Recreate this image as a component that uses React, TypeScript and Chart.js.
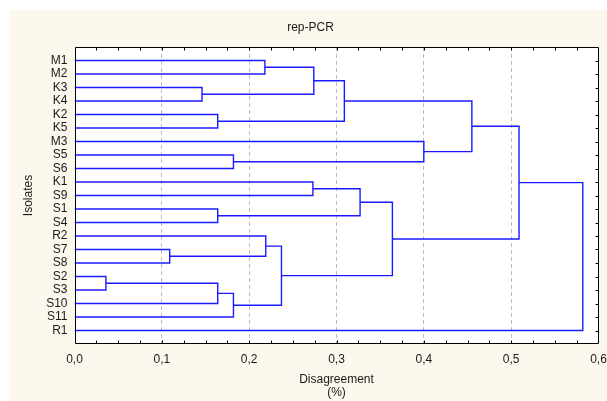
import React, { useEffect, useRef } from "react";
import { Chart, registerables } from "chart.js";

Chart.register(...registerables);

// Leaf order (top to bottom)
const leaves = ["M1", "M2", "K3", "K4", "K2", "K5", "M3", "S5", "S6", "K1", "S9", "S1", "S4", "R2", "S7", "S8", "S2", "S3", "S10", "S11", "R1"];

// Linkage: node ids 0..20 are leaves, 21+ are merges in order
const mergeLeft = [0, 2, 21, 4, 23, 7, 6, 25, 9, 11, 29, 14, 13, 16, 34, 35, 33, 31, 28, 39];
const mergeRight = [1, 3, 22, 5, 24, 8, 26, 27, 10, 12, 30, 15, 32, 17, 18, 19, 36, 37, 38, 20];
const mergeHeight = [0.218, 0.146, 0.274, 0.164, 0.309, 0.182, 0.4, 0.455, 0.273, 0.164, 0.327, 0.109, 0.219, 0.036, 0.164, 0.182, 0.237, 0.364, 0.509, 0.582];

const xTickStep = 0.1;
const xMin = 0;
const xMax = 0.6;

const titleText = "rep-PCR";
const xTitle = ["Disagreement", "(%)"];
const yTitle = "Isolates";

const FONT = "'Liberation Sans', Arial, Helvetica, sans-serif";
const LINE = "#1a1aff";
const CREAM = "#fcf8ee";
const TEXT = "#1a1a1a";

function buildDatasets() {
  const nodeX: number[] = leaves.map(() => 0);
  const nodeY: number[] = leaves.map((_, i) => i + 1);
  const sets: any[] = [];
  mergeHeight.forEach((h, i) => {
    const a = mergeLeft[i];
    const b = mergeRight[i];
    sets.push({
      data: [
        { x: nodeX[a], y: nodeY[a] },
        { x: h, y: nodeY[a] },
        { x: h, y: nodeY[b] },
        { x: nodeX[b], y: nodeY[b] },
      ],
      showLine: true,
      borderColor: LINE,
      borderWidth: 1.4,
      pointRadius: 0,
      fill: false,
      tension: 0,
    });
    nodeX.push(h);
    nodeY.push((nodeY[a] + nodeY[b]) / 2);
  });
  return sets;
}

const framePlugin = {
  id: "frame",
  beforeDraw(chart: any) {
    const { ctx, width, height, chartArea } = chart;
    ctx.save();
    ctx.fillStyle = "#ffffff";
    ctx.fillRect(0, 0, width, height);
    ctx.fillStyle = CREAM;
    ctx.fillRect(9, 10, width - 9, height - 10);
    ctx.fillStyle = "#ffffff";
    ctx.fillRect(chartArea.left, chartArea.top, chartArea.right - chartArea.left, chartArea.bottom - chartArea.top);
    ctx.restore();
  },
  afterDraw(chart: any) {
    const { ctx, chartArea } = chart;
    const xs = chart.scales.x;
    const ys = chart.scales.y;
    const L = Math.round(chartArea.left) + 0.5;
    const R = Math.round(chartArea.right) - 0.5;
    const T = Math.round(chartArea.top) + 0.5;
    const B = Math.round(chartArea.bottom) - 0.5;
    ctx.save();
    ctx.strokeStyle = "#000000";
    ctx.lineWidth = 1;
    ctx.beginPath();
    ctx.rect(L, T, R - L, B - T);
    ctx.stroke();
    ctx.beginPath();
    for (let k = 1; k < 24; k++) {
      const px = Math.round(xs.getPixelForValue(k * 0.025)) + 0.5;
      ctx.moveTo(px, T);
      ctx.lineTo(px, T + 3);
      ctx.moveTo(px, B);
      ctx.lineTo(px, B - 3);
    }
    leaves.forEach((_, i) => {
      const py = Math.round(ys.getPixelForValue(i + 1)) + 0.5;
      ctx.moveTo(R, py);
      ctx.lineTo(R - 3, py);
    });
    ctx.stroke();
    ctx.restore();
  },
};

export default function App() {
  const ref = useRef<HTMLCanvasElement | null>(null);
  useEffect(() => {
    if (!ref.current) return;
    const chart = new Chart(ref.current, {
      type: "scatter",
      data: { datasets: buildDatasets() },
      options: {
        responsive: false,
        animation: false,
        devicePixelRatio: 1,
        layout: { padding: { left: 22.5, right: 8.5, top: 0, bottom: 0 } },
        plugins: {
          legend: { display: false },
          tooltip: { enabled: false },
          title: {
            display: true,
            text: titleText,
            color: TEXT,
            font: { family: FONT, size: 12, weight: "normal", lineHeight: 1.2 },
            padding: { top: 20.3, bottom: 12.3 },
          },
        },
        scales: {
          x: {
            type: "linear",
            min: xMin,
            max: xMax,
            afterFit(scale: any) {
              scale.height = 57;
              scale.paddingLeft = 0;
              scale.paddingRight = 0;
            },
            ticks: {
              stepSize: xTickStep,
              padding: 8,
              color: TEXT,
              font: { family: FONT, size: 12 },
              maxRotation: 0,
              callback: (v: any) => Number(v).toFixed(1).replace(".", ","),
            },
            grid: {
              drawTicks: false,
              lineWidth: 1,
              color: (c: any) =>
                c.tick && c.tick.value > 0.001 && c.tick.value < 0.599 ? "#bdbdbd" : "rgba(0,0,0,0)",
            },
            border: { display: false, dash: [4, 3] },
            title: {
              display: true,
              text: xTitle,
              color: TEXT,
              font: { family: FONT, size: 12, lineHeight: 1.12 },
              padding: { top: 0, bottom: 1.6 },
            },
          },
          y: {
            type: "linear",
            min: 0,
            max: leaves.length + 1,
            reverse: true,
            afterFit(scale: any) {
              scale.width = 52;
              scale.paddingTop = 0;
              scale.paddingBottom = 0;
            },
            afterBuildTicks(scale: any) {
              scale.ticks = leaves.map((_, i) => ({ value: i + 1 }));
            },
            ticks: {
              padding: 7,
              color: TEXT,
              font: { family: FONT, size: 12 },
              autoSkip: false,
              callback: (v: any) => leaves[Math.round(Number(v)) - 1] ?? "",
            },
            grid: { display: false, drawTicks: false },
            border: { display: false },
            title: {
              display: true,
              text: yTitle,
              color: TEXT,
              font: { family: FONT, size: 12, lineHeight: 1.0 },
              padding: { top: 0, bottom: 0 },
            },
          },
        },
      } as any,
      plugins: [framePlugin],
    });
    return () => chart.destroy();
  }, []);
  return (
    <div style={{ position: "fixed", left: 0, top: 0, width: 607, height: 401 }}>
      <canvas ref={ref} width={607} height={401} style={{ display: "block" }} />
    </div>
  );
}
